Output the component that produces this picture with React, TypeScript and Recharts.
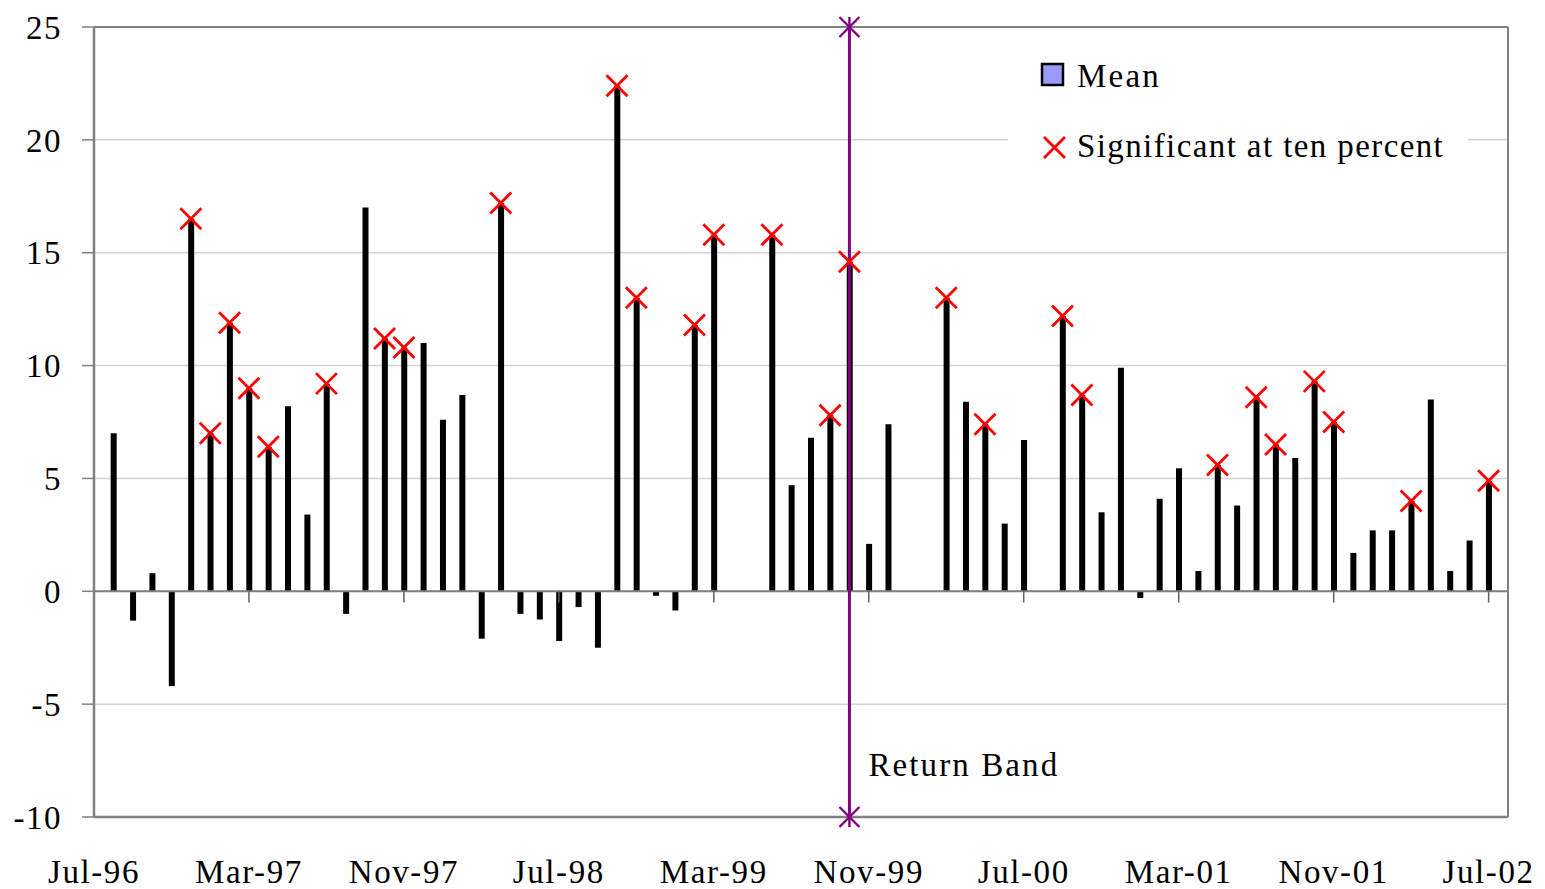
import {
  Bar,
  CartesianGrid,
  ComposedChart,
  Legend,
  ReferenceLine,
  Scatter,
  XAxis,
  YAxis,
} from "recharts";

// month index 0 = Jul-96 ... 72 = Jul-02
const tickMonths = [0, 8, 16, 24, 32, 40, 48, 56, 64, 72];
const tickLabels = [
  "Jul-96",
  "Mar-97",
  "Nov-97",
  "Jul-98",
  "Mar-99",
  "Nov-99",
  "Jul-00",
  "Mar-01",
  "Nov-01",
  "Jul-02",
];
const yTicks = [-10, -5, 0, 5, 10, 15, 20, 25];

const means: (number | null)[] = [
  null, // Jul-96
  7.0, -1.3, 0.8, -4.2, 16.5, 7.0, 11.9, 9.0, 6.4, 8.2, 3.4, 9.2, // Aug-96 .. Jul-97
  -1.0, 17.0, 11.2, 10.8, 11.0, 7.6, 8.7, -2.1, 17.2, -1.0, -1.25, -2.2, // .. Jul-98
  -0.7, -2.5, 22.4, 13.0, -0.2, -0.85, 11.8, 15.8, null, null, 15.8, 4.7, // .. Jul-99
  6.8, 7.8, 14.6, 2.1, 7.4, null, null, 13.0, 8.4, 7.4, 3.0, 6.7, // .. Jul-00
  null, 12.2, 8.7, 3.5, 9.9, -0.3, 4.1, 5.45, 0.9, 5.6, 3.8, 8.6, // .. Jul-01
  6.5, 5.9, 9.3, 7.5, 1.7, 2.7, 2.7, 4.0, 8.5, 0.9, 2.25, 4.9, // .. Jul-02
];

// months where the mean is significant at ten percent
const significantMonths = [
  5, 6, 7, 8, 9, 12, 15, 16, 21, 27, 28, 31, 32, 35, 38, 39, 44, 46, 50, 51,
  58, 60, 61, 63, 64, 68, 72,
];

const bandMonth = 39; // Oct-99
const bandEnds = [25, -10];

const legendNames = ["Mean", "Significant at ten percent"];

const data = means.map((v, i) => ({ m: i, mean: v }));
const sigData = significantMonths.map((m) => ({ m, mean: means[m] }));
const bandData = bandEnds.map((v) => ({ m: bandMonth, mean: v }));

const FONT = "'Liberation Serif', 'Times New Roman', serif";

const RedCross = (props: any) => {
  const { cx, cy } = props;
  const s = 10.5;
  return (
    <g stroke="#ff0000" strokeWidth={2.8}>
      <line x1={cx - s} y1={cy - s} x2={cx + s} y2={cy + s} />
      <line x1={cx - s} y1={cy + s} x2={cx + s} y2={cy - s} />
    </g>
  );
};

const PurpleStar = (props: any) => {
  const { cx, cy } = props;
  const s = 10;
  return (
    <g stroke="#800080" strokeWidth={2.4}>
      <line x1={cx - s} y1={cy - s} x2={cx + s} y2={cy + s} />
      <line x1={cx - s} y1={cy + s} x2={cx + s} y2={cy - s} />
      <line x1={cx} y1={cy - s} x2={cx} y2={cy + s} />
    </g>
  );
};

const renderLegend = () => (
  <svg width={460} height={130} style={{ display: "block" }}>
    <rect x={0} y={0} width={460} height={130} fill="#ffffff" />
    <rect x={34} y={24} width={21} height={21} fill="#9999ff" stroke="#000" strokeWidth={2.5} />
    <text x={69} y={47} fontSize={33} fontFamily={FONT} letterSpacing={2.2} fill="#000">
      {legendNames[0]}
    </text>
    <g stroke="#ff0000" strokeWidth={2.8}>
      <line x1={36} y1={97} x2={57} y2={118} />
      <line x1={36} y1={118} x2={57} y2={97} />
    </g>
    <text x={69} y={117} fontSize={33} fontFamily={FONT} letterSpacing={1.4} fill="#000">
      {legendNames[1]}
    </text>
  </svg>
);

const BandLabel = (props: any) => {
  const { viewBox } = props;
  return (
    <text
      x={viewBox.x + 19}
      y={viewBox.y + viewBox.height - 41}
      fontSize={33}
      fontFamily={FONT}
      letterSpacing={2.1}
      fill="#000"
    >
      Return Band
    </text>
  );
};

export default function App() {
  return (
    <div style={{ position: "absolute", left: 0, top: 0, background: "#fff" }}>
      <ComposedChart
        width={1545}
        height={889}
        data={data}
        margin={{ top: 27, right: 37, bottom: 0, left: 0 }}
      >
        <CartesianGrid horizontal vertical={false} stroke="#d2d2d2" strokeWidth={1.5} />
        <XAxis
          type="number"
          dataKey="m"
          domain={[0, 73]}
          ticks={tickMonths}
          interval={0}
          height={72}
          axisLine={false}
          tickLine={false}
          tickSize={0}
          tickMargin={43}
          tickFormatter={(v: number) => tickLabels[tickMonths.indexOf(v)] ?? ""}
          tick={{ fill: "#000", fontSize: 33, fontFamily: FONT, letterSpacing: 1.6 }}
        />
        <YAxis
          type="number"
          dataKey="mean"
          domain={[-10, 25]}
          ticks={yTicks}
          interval={0}
          width={94}
          axisLine={{ stroke: "#808080", strokeWidth: 2.5 }}
          tickLine={{ stroke: "#808080", strokeWidth: 1.5 }}
          tickSize={12}
          tickMargin={20}
          tick={{ fill: "#000", fontSize: 33, fontFamily: FONT, letterSpacing: 1.5 }}
        />
        <ReferenceLine y={25} stroke="#808080" strokeWidth={2} />
        <ReferenceLine y={-10} stroke="#808080" strokeWidth={2.5} />
        <ReferenceLine x={73} stroke="#808080" strokeWidth={2} />
        <ReferenceLine y={0} stroke="#808080" strokeWidth={2} />
        {tickMonths.slice(1).map((t) => (
          <ReferenceLine
            key={t}
            segment={[
              { x: t, y: 0 },
              { x: t, y: -0.5 },
            ]}
            stroke="#606060"
            strokeWidth={1.5}
          />
        ))}
        <Bar
          dataKey="mean"
          name="Mean"
          fill="#000"
          barSize={6}
          isAnimationActive={false}
        />
        <ReferenceLine
          x={bandMonth}
          stroke="#800080"
          strokeWidth={3}
          label={<BandLabel />}
        />
        <Scatter
          data={bandData}
          dataKey="mean"
          legendType="none"
          shape={<PurpleStar />}
          isAnimationActive={false}
        />
        <Scatter
          data={sigData}
          dataKey="mean"
          name="Significant at ten percent"
          shape={<RedCross />}
          isAnimationActive={false}
        />
        <Legend
          layout="horizontal"
          align="center"
          verticalAlign="middle"
          content={renderLegend}
          wrapperStyle={{ position: "absolute", left: 1008, top: 40, width: 460, height: 130 }}
        />
      </ComposedChart>
    </div>
  );
}
